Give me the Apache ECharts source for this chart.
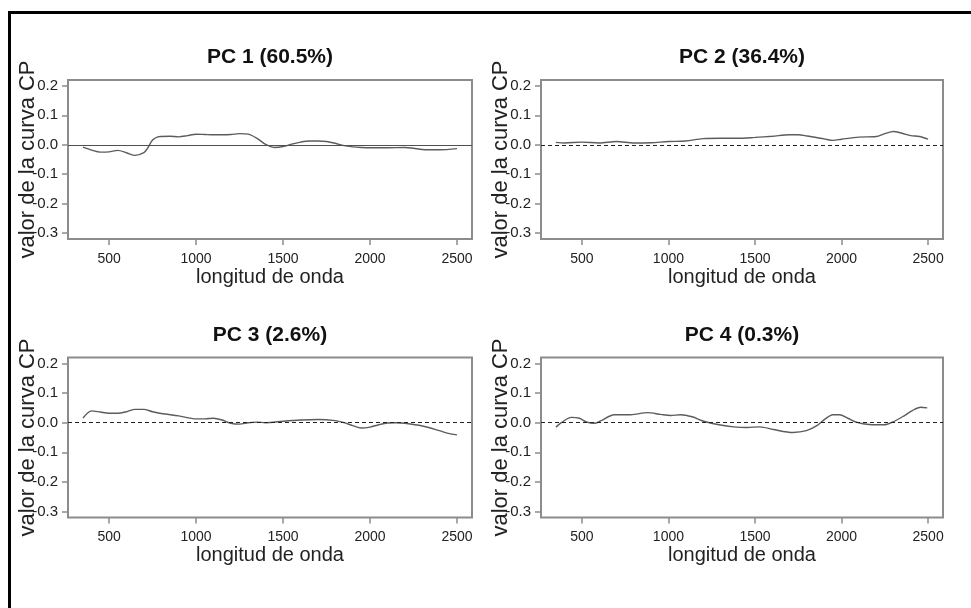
<!DOCTYPE html>
<html>
<head>
<meta charset="utf-8">
<script src="https://cdn.jsdelivr.net/npm/echarts@6/dist/echarts.min.js"></script>
<style>
html,body{margin:0;padding:0;background:#fff;}
#chart{width:971px;height:608px;}
</style>
</head>
<body>
<div id="chart"></div>
<script>
// ---- data ----
const panelTitles = ['PC 1 (60.5%)', 'PC 2 (36.4%)', 'PC 3 (2.6%)', 'PC 4 (0.3%)'];
const xTicks = [500, 1000, 1500, 2000, 2500];
const yTicks = [-0.3, -0.2, -0.1, 0.0, 0.1, 0.2];
const xName = 'longitud de onda';
const yName = 'valor de la curva CP';

const pc1X = [350, 400, 450, 500, 550, 600, 650, 700, 720, 750, 780, 800, 850, 900, 950, 1000, 1050, 1100, 1150, 1200, 1250, 1300, 1350, 1400, 1450, 1500, 1550, 1600, 1650, 1700, 1750, 1800, 1850, 1900, 1950, 2000, 2100, 2200, 2250, 2300, 2400, 2500];
const pc1Y = [-0.008, -0.018, -0.025, -0.024, -0.019, -0.027, -0.036, -0.027, -0.013, 0.016, 0.027, 0.028, 0.029, 0.027, 0.031, 0.036, 0.035, 0.034, 0.034, 0.035, 0.038, 0.036, 0.022, 0.001, -0.009, -0.006, 0.002, 0.009, 0.013, 0.013, 0.011, 0.005, -0.003, -0.007, -0.009, -0.010, -0.010, -0.009, -0.012, -0.016, -0.017, -0.013];

const pc2X = [350, 400, 500, 600, 700, 800, 900, 1000, 1100, 1200, 1300, 1400, 1500, 1600, 1700, 1750, 1800, 1900, 1950, 2000, 2100, 2200, 2250, 2300, 2350, 2400, 2450, 2500];
const pc2Y = [0.008, 0.006, 0.009, 0.006, 0.011, 0.006, 0.007, 0.011, 0.013, 0.021, 0.022, 0.022, 0.025, 0.029, 0.034, 0.034, 0.030, 0.020, 0.015, 0.019, 0.026, 0.028, 0.038, 0.045, 0.039, 0.031, 0.028, 0.019];

const pc3X = [350, 400, 450, 500, 550, 600, 650, 700, 750, 800, 900, 1000, 1050, 1100, 1150, 1200, 1250, 1300, 1350, 1400, 1500, 1600, 1700, 1800, 1850, 1900, 1950, 2000, 2050, 2100, 2150, 2200, 2300, 2400, 2450, 2500];
const pc3Y = [0.016, 0.040, 0.036, 0.032, 0.032, 0.037, 0.045, 0.045, 0.037, 0.031, 0.023, 0.013, 0.013, 0.015, 0.009, -0.002, -0.005, 0.000, 0.002, 0.000, 0.005, 0.009, 0.011, 0.007, 0.000, -0.010, -0.018, -0.015, -0.007, -0.001, 0.000, -0.002, -0.011, -0.027, -0.036, -0.041];

const pc4X = [350, 381, 439, 486, 525, 572, 611, 687, 783, 879, 955, 1013, 1070, 1137, 1204, 1300, 1376, 1453, 1529, 1606, 1720, 1797, 1855, 1902, 1950, 1988, 2036, 2094, 2160, 2247, 2294, 2352, 2409, 2457, 2495];
const pc4Y = [-0.015, 0.000, 0.018, 0.015, 0.003, -0.002, 0.007, 0.027, 0.027, 0.034, 0.028, 0.024, 0.027, 0.020, 0.005, -0.008, -0.014, -0.016, -0.014, -0.023, -0.033, -0.027, -0.011, 0.011, 0.027, 0.027, 0.015, 0.000, -0.006, -0.007, 0.002, 0.020, 0.041, 0.052, 0.050];

const seriesX = [pc1X, pc2X, pc3X, pc4X];
const seriesY = [pc1Y, pc2Y, pc3Y, pc4Y];

// ---- layout ----
const grids = [
  {left: 68, top: 80, width: 404, height: 159},
  {left: 541, top: 80, width: 402, height: 159},
  {left: 68, top: 357.5, width: 404, height: 160},
  {left: 541, top: 357.5, width: 402, height: 160}
];
const FONT = '"Liberation Sans", Arial, sans-serif';

const option = {
  animation: false,
  backgroundColor: '#ffffff',
  graphic: [{
    type: 'rect',
    shape: {x: 9.5, y: 12.5, width: 1100, height: 800},
    style: {fill: 'none', stroke: '#000', lineWidth: 3},
    silent: true
  }],
  title: panelTitles.map((t, i) => ({
    text: t,
    left: grids[i].left + grids[i].width / 2,
    top: grids[i].top - 33,
    textAlign: 'center',
    padding: 0,
    textStyle: {fontFamily: FONT, fontSize: 21, fontWeight: 'bold', color: '#111'}
  })),
  grid: grids.map(g => Object.assign({
    show: true, borderColor: '#8c8c8c', borderWidth: 2, backgroundColor: 'transparent', containLabel: false
  }, g)),
  xAxis: grids.map((g, i) => ({
    type: 'value', gridIndex: i, min: 264, max: 2586,
    name: xName, nameLocation: 'middle', nameGap: 28, nameMoveOverlap: false,
    nameTextStyle: {fontFamily: FONT, fontSize: 20, color: '#222'},
    axisLine: {show: false, onZero: false},
    axisTick: {show: true, length: 6, inside: false, customValues: xTicks, lineStyle: {color: '#8c8c8c', width: 1.5}},
    axisLabel: {show: true, customValues: xTicks, margin: 13, fontFamily: FONT, fontSize: 14, color: '#222',
      formatter: v => String(v)},
    splitLine: {show: false}
  })),
  yAxis: grids.map((g, i) => ({
    type: 'value', gridIndex: i, min: -0.32, max: 0.22,
    name: yName, nameLocation: 'middle', nameGap: 29, nameRotate: 90, nameMoveOverlap: false,
    nameTextStyle: {fontFamily: FONT, fontSize: 22, color: '#222'},
    axisLine: {show: false, onZero: false},
    axisTick: {show: true, length: 6, inside: false, customValues: yTicks, lineStyle: {color: '#8c8c8c', width: 1.5}},
    axisLabel: {show: true, customValues: yTicks, margin: 10, fontFamily: FONT, fontSize: 15, color: '#222',
      formatter: v => v.toFixed(1)},
    splitLine: {show: false}
  })),
  series: seriesX.map((xs, i) => ({
    type: 'line', xAxisIndex: i, yAxisIndex: i,
    data: xs.map((x, k) => [x, seriesY[i][k]]),
    showSymbol: false, symbol: 'none', smooth: 0.3,
    lineStyle: {color: '#5c5c5c', width: 1.4},
    markLine: {
      silent: true, symbol: ['none', 'none'], label: {show: false},
      lineStyle: i === 0 ? {color: '#505050', width: 1.2, type: 'solid'} : {color: '#222', width: 1, type: [4, 3]},
      data: [{yAxis: 0}]
    }
  }))
};

const chart = echarts.init(document.getElementById('chart'), null, {renderer: 'canvas'});
chart.setOption(option);
</script>
</body>
</html>
